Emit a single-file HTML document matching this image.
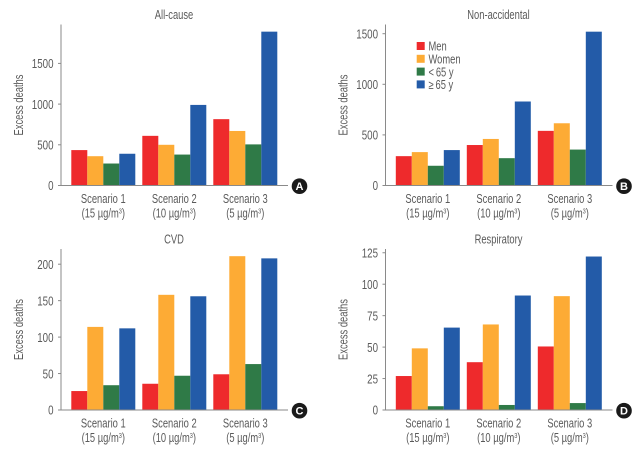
<!DOCTYPE html>
<html lang="en">
<head>
<meta charset="utf-8">
<title>Excess deaths by scenario</title>
<style>
html,body{margin:0;padding:0;background:#fff;}
svg{display:block;}
text{font-family:"Liberation Sans",sans-serif;fill:#5a5a5a;font-size:12px;}
</style>
</head>
<body>
<svg id="chart" width="642" height="454" viewBox="0 0 642 454" xmlns="http://www.w3.org/2000/svg"></svg>
<script>
const scenarios = ["Scenario 1", "Scenario 2", "Scenario 3"];
const thresholds = ["(15 µg/m", "(10 µg/m", "(5 µg/m"];
const seriesNames = ["Men", "Women", "<\u200965 y", "≥\u200965 y"];
const seriesKeys = ["men", "women", "under-65", "over-65"];
const seriesColors = ["#ee2a2c", "#fdab35", "#2f7a47", "#235ba8"];

const allCauseValues = [[435, 360, 270, 390], [610, 500, 380, 990], [815, 670, 505, 1890]];
const nonAccidentalValues = [[290, 330, 195, 350], [400, 460, 270, 830], [540, 615, 355, 1520]];
const cvdValues = [[26, 114, 34, 112], [36, 158, 47, 156], [49, 211, 63, 208]];
const respiratoryValues = [[27, 49, 3, 65.5], [38, 68, 4, 91], [50.5, 90.5, 5.5, 122]];

const allCauseTicks = [0, 500, 1000, 1500];
const nonAccidentalTicks = [0, 500, 1000, 1500];
const cvdTicks = [0, 50, 100, 150, 200];
const respiratoryTicks = [0, 25, 50, 75, 100, 125];

const panels = [
  {id:"a", title:"All-cause", badge:"A", values:allCauseValues, ticks:allCauseTicks, left:61, base:185.5, top:24.5, pxPerUnit:40.7/500},
  {id:"b", title:"Non-accidental", badge:"B", values:nonAccidentalValues, ticks:nonAccidentalTicks, left:385.5, base:185.5, top:24.5, pxPerUnit:50.6/500},
  {id:"c", title:"CVD", badge:"C", values:cvdValues, ticks:cvdTicks, left:61, base:410, top:249, pxPerUnit:36.45/50},
  {id:"d", title:"Respiratory", badge:"D", values:respiratoryValues, ticks:respiratoryTicks, left:385.5, base:410, top:249, pxPerUnit:31.45/25}
];

const NS = "http://www.w3.org/2000/svg";
const svg = document.getElementById("chart");
const X_SQUEEZE = 0.75;

function make(tag, attrs, parent) {
  const el = document.createElementNS(NS, tag);
  for (const k in attrs) el.setAttribute(k, attrs[k]);
  parent.appendChild(el);
  return el;
}
function label(str, x, y, anchor, parent, size) {
  const el = make("text", {
    transform: "translate(" + x + " " + y + ") scale(" + X_SQUEEZE + " 1)",
    "text-anchor": anchor,
    style: "font-size:" + (size || 12.5) + "px"
  }, parent);
  el.textContent = str;
  return el;
}
function xScale(p, group, series) {
  return p.left + 10.3 + group * 71 + series * 16;
}
function yScale(p, value) {
  return p.base - value * p.pxPerUnit;
}

panels.forEach(function (p) {
  const g = make("g", {}, svg);
  
  

  const title = label(p.title, p.left + 113, p.top - 5.5, "middle", g, 12.5);
  
  

  const yTitle = make("text", {
    transform: "translate(" + (p.left - 38) + " " + ((p.top + p.base) / 2) + ") rotate(-90) scale(" + X_SQUEEZE + " 1)",
    "text-anchor": "middle",
    style: "font-size:12.5px"
  }, g);
  yTitle.textContent = "Excess deaths";
  
  

  p.values.forEach(function (groupValues, gi) {
    groupValues.forEach(function (v, si) {
      const y = yScale(p, v);
      const bar = make("rect", {
        x: xScale(p, gi, si),
        y: y,
        width: 16,
        height: p.base - y,
        fill: seriesColors[si]
      }, g);
      
      
    });

    const cx = xScale(p, gi, 2);
    const name = label(scenarios[gi], cx, p.base + 17.5, "middle", g, 12.5);
    
    

    const sub = label(thresholds[gi], cx, p.base + 32, "middle", g, 12.5);
    const sup = make("tspan", {dy: -4, style: "font-size:7.5px"}, sub);
    sup.textContent = "3";
    const close = make("tspan", {dy: 4}, sub);
    close.textContent = ")";
    
    
  });

  const yAxis = make("line", {x1: p.left, x2: p.left, y1: p.top, y2: p.base, stroke: "#8a8a8a", "stroke-width": 1}, g);
  
  

  const xAxis = make("line", {x1: p.left, x2: p.left + 227, y1: p.base, y2: p.base, stroke: "#8a8a8a", "stroke-width": 1}, g);
  
  

  p.ticks.forEach(function (t) {
    const y = yScale(p, t);
    const mark = make("line", {x1: p.left - 3, x2: p.left, y1: y, y2: y, stroke: "#8a8a8a", "stroke-width": 1}, g);
    
    
    const tl = label(String(t), p.left - 7.5, y + 4.7, "end", g, 13);
    
    
  });

  const badge = make("circle", {cx: p.left + 238.5, cy: p.base + 0.7, r: 7.8, fill: "#1a1a1a"}, g);
  
  
  const bt = make("text", {x: p.left + 238.5, y: p.base + 4.7, "text-anchor": "middle", "font-weight": "bold", style: "fill:#fff;font-size:11px"}, g);
  bt.textContent = p.badge;
  
  
});

const legend = make("g", {}, svg);


seriesNames.forEach(function (n, i) {
  const rowY = 42 + i * 12.8;
  const sw = make("rect", {x: 416.7, y: rowY, width: 8, height: 8, fill: seriesColors[i]}, legend);
  
  
  const t = label(n, 428.5, rowY + 8.7, "start", legend, 12.5);
  
  
});
</script>
</body>
</html>
